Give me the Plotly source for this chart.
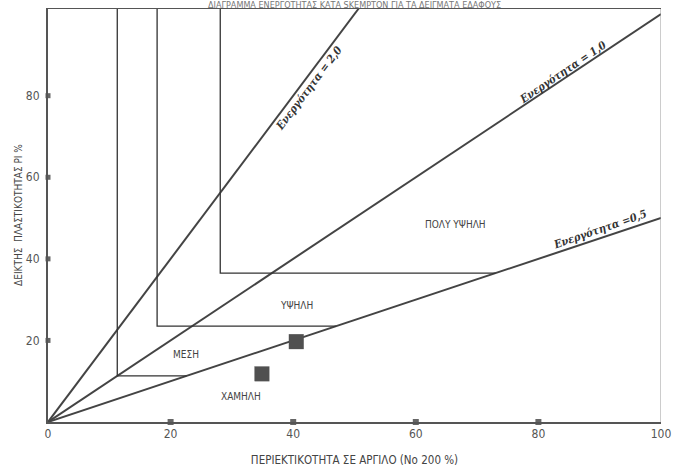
import plotly.graph_objects as go
import math

# ---- data ----
activities = [2.0, 1.0, 0.5]
activity_labels = ["Ενεργότητα = 2,0", "Ενεργότητα = 1,0", "Ενεργότητα =0,5"]
zone_x = [11.3, 17.8, 28.1]      # vertical boundaries (clay %)
zone_y = [11.3, 23.5, 36.5]      # horizontal boundaries (PI %)
zone_names = ["ΜΕΣΗ", "ΥΨΗΛΗ", "ΠΟΛΥ ΥΨΗΛΗ", "ΧΑΜΗΛΗ"]
zone_name_x = [22.5, 40.5, 66.5, 31.5]
zone_name_y = [16.5, 28.5, 48.5, 6.3]
sample_clay = [40.5, 34.9]
sample_pi = [19.7, 11.8]
x_ticks = [0, 20, 40, 60, 80, 100]
y_ticks = [20, 40, 60, 80]

X_MAX = 100
Y_MAX = 101.5
line_col = "#444444"

fig = go.Figure()

# activity lines
for a in activities:
    xe = min(X_MAX, Y_MAX / a)
    fig.add_trace(go.Scatter(x=[0, xe], y=[0, a * xe], mode="lines",
                             line=dict(color=line_col, width=2), hoverinfo="skip",
                             showlegend=False))

# zone boundary lines (down from top, then right to the A=0.5 line)
low_a = activities[-1]
for xv, yh in zip(zone_x, zone_y):
    fig.add_trace(go.Scatter(x=[xv, xv, yh / low_a], y=[Y_MAX, yh, yh], mode="lines",
                             line=dict(color="#333333", width=1.3), hoverinfo="skip",
                             showlegend=False))

# samples
fig.add_trace(go.Scatter(x=sample_clay, y=sample_pi, mode="markers",
                         marker=dict(symbol="square", size=15, color="#505050"),
                         showlegend=False))

# tick markers on axes
fig.add_trace(go.Scatter(x=x_ticks[1:-1], y=[0] * 4, mode="markers", cliponaxis=False,
                         marker=dict(symbol="square", size=6, color="#666666"),
                         showlegend=False, hoverinfo="skip"))
fig.add_trace(go.Scatter(x=[0] * 4, y=y_ticks, mode="markers", cliponaxis=False,
                         marker=dict(symbol="square", size=5, color="#666666"),
                         showlegend=False, hoverinfo="skip"))

# right border
fig.add_trace(go.Scatter(x=[X_MAX, X_MAX], y=[0, Y_MAX], mode="lines", cliponaxis=False,
                         line=dict(color="#999999", width=1), hoverinfo="skip",
                         showlegend=False))
# top border
fig.add_trace(go.Scatter(x=[0, X_MAX], y=[Y_MAX, Y_MAX], mode="lines", cliponaxis=False,
                         line=dict(color="#555", width=2), hoverinfo="skip", showlegend=False))

ann = []
# zone names
for t, xx, yy in zip(zone_names, zone_name_x, zone_name_y):
    ann.append(dict(x=xx, y=yy, text=t, showarrow=False,
                    font=dict(family="DejaVu Sans Condensed, DejaVu Sans", size=10, color="#444")))
# activity labels
lab_x = [41.5, 84.5, 90.5]
lab_angles = [-53, -34, -19]
offs = [-8, 6, 8]
for t, a, lx, ang, off in zip(activity_labels, activities, lab_x, lab_angles, offs):
    r = math.radians(-ang)
    ann.append(dict(x=lx, y=a * lx, text=t, showarrow=False, textangle=ang,
                    xshift=-off * math.sin(r), yshift=off * math.cos(r),
                    font=dict(family="DejaVu Serif Condensed, DejaVu Serif", size=11, color="#333",
                              style="italic", weight="bold")))
# title (cropped at top)
ann.append(dict(x=0.5, y=1.0, xref="paper", yref="paper", yshift=10,
                text="ΔΙΑΓΡΑΜΜΑ ΕΝΕΡΓΟΤΗΤΑΣ ΚΑΤΑ SKEMPTON ΓΙΑ ΤΑ ΔΕΙΓΜΑΤΑ ΕΔΑΦΟΥΣ",
                showarrow=False,
                font=dict(family="DejaVu Sans Condensed", size=9, color="#777")))

fig.update_layout(
    width=673, height=471,
    margin=dict(l=48, r=12, t=8, b=49),
    paper_bgcolor="white", plot_bgcolor="white",
    annotations=ann,
    xaxis=dict(range=[0, X_MAX], tickvals=x_ticks, showgrid=False, zeroline=False,
               showline=True, linecolor="#555", linewidth=2, mirror=False, automargin=False,
               ticks="", tickfont=dict(family="DejaVu Sans Condensed", size=12, color="#555"),
               title=dict(text="ΠΕΡΙΕΚΤΙΚΟΤΗΤΑ ΣΕ ΑΡΓΙΛΟ (Νο 200 %)", standoff=16,
                          font=dict(family="DejaVu Sans Condensed", size=11.5, color="#444"))),
    yaxis=dict(range=[0, Y_MAX], tickvals=y_ticks, showgrid=False, zeroline=False,
               showline=True, linecolor="#555", linewidth=2, automargin=False,
               ticks="", ticklabelstandoff=4,
               tickfont=dict(family="DejaVu Sans Condensed", size=12, color="#555"),
               title=dict(text="ΔΕΙΚΤΗΣ  ΠΛΑΣΤΙΚΟΤΗΤΑΣ PI %", standoff=1,
                          font=dict(family="DejaVu Sans Condensed", size=10, color="#444"))),
)

fig.write_html("out.html", config={"displayModeBar": False},
               post_script="document.body.style.margin='0px';")
